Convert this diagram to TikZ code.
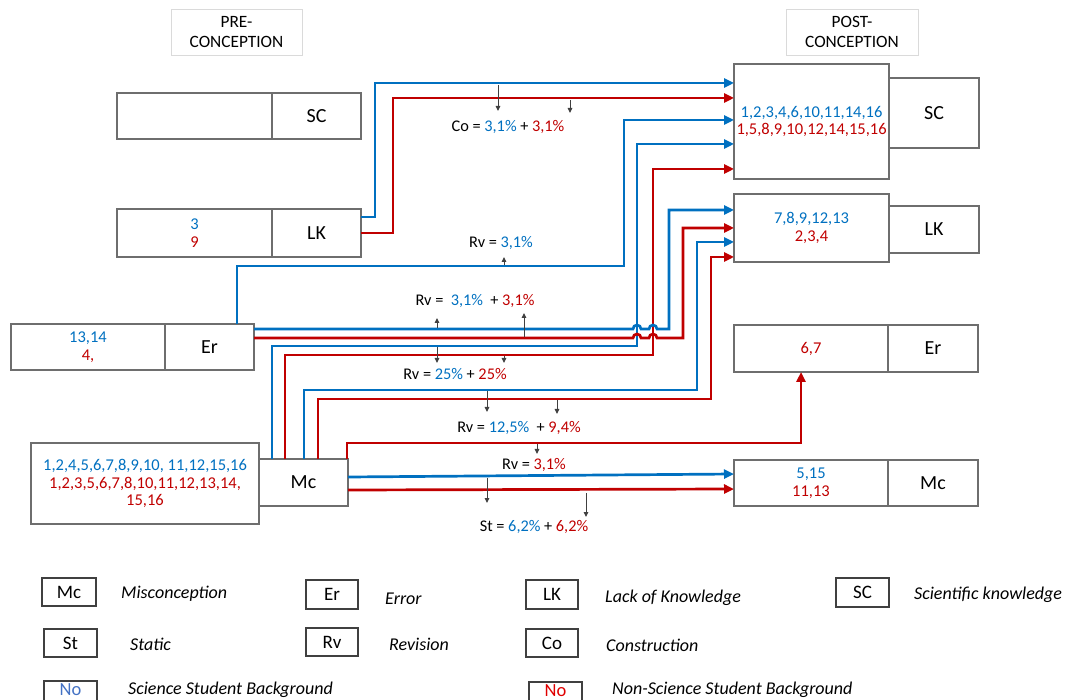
\documentclass[tikz,border=0pt]{standalone}
\usepackage{fontspec}
\setmainfont{Carlito}
\usetikzlibrary{arrows.meta}
\definecolor{cblue}{HTML}{0070C0}
\definecolor{cred}{HTML}{C00000}
\definecolor{bgray}{HTML}{6E6E6E}
\definecolor{hgray}{HTML}{DADADA}
\definecolor{agray}{HTML}{404040}
\definecolor{nblue}{HTML}{4472C4}
\definecolor{nred}{HTML}{E00000}
\begin{document}
\begin{tikzpicture}[x=1pt,y=-1pt,
 box/.style={draw=bgray,line width=1.1pt,inner sep=0pt,outer sep=0pt,align=center,anchor=north west,font=\fontsize{16.5}{17.5}\selectfont},
 abbr/.style={box,font=\fontsize{20}{23}\selectfont},
 head/.style={box,draw=hgray,line width=0.9pt,font=\fontsize{17.3}{19.5}\selectfont},
 lbox/.style={box,draw=agray,line width=1.2pt,font=\fontsize{19}{22}\selectfont},
 lframe/.style={draw=agray,line width=1.2pt},
 ltext/.style={anchor=west,inner sep=0pt,font=\fontsize{18}{20}\selectfont\itshape},
 lab/.style={inner sep=0pt,font=\fontsize{16.3}{19}\selectfont},
 bl/.style={draw=cblue,line width=2.7pt,-{Triangle[length=10pt,width=9pt]}},
 rd/.style={draw=cred,line width=2.7pt,-{Triangle[length=10pt,width=9pt]}},
 gar/.style={draw=agray,line width=1pt,-{Triangle[length=5pt,width=4.5pt]}}
]
\useasboundingbox (0,0) rectangle (1066,700);
\clip (0,0) rectangle (1066,700);

% headers
\node[head,minimum width=131pt,minimum height=46pt] (preHead) at (171,9) {PRE-\\CONCEPTION};
\node[head,minimum width=132pt,minimum height=46pt] (postHead) at (786,9) {POST-\\CONCEPTION};

% pre boxes
\node[box,minimum width=155pt,minimum height=46pt] (preSCa) at (117,93) {};
\node[abbr,minimum width=89pt,minimum height=46pt] (preSCb) at (272,93) {SC};
\node[box,minimum width=155pt,minimum height=48pt] (preLKa) at (117,209) {\textcolor{cblue}{3}\\\textcolor{cred}{9}};
\node[abbr,minimum width=89pt,minimum height=48pt] (preLKb) at (272,209) {LK};
\node[box,minimum width=154pt,minimum height=46pt] (preEra) at (11,324) {\textcolor{cblue}{13,14}\\\textcolor{cred}{4,}};
\node[abbr,minimum width=89pt,minimum height=46pt] (preErb) at (165,324) {Er};
\node[box,minimum width=228pt,minimum height=81pt] (preMca) at (31,443) {\textcolor{cblue}{1,2,4,5,6,7,8,9,10, 11,12,15,16}\\\textcolor{cred}{1,2,3,5,6,7,8,10,11,12,13,14,}\\\textcolor{cred}{15,16}};
\node[abbr,minimum width=89pt,minimum height=47pt] (preMcb) at (259,459) {Mc};

% post boxes
\node[box,minimum width=155pt,minimum height=115pt] (postSCa) at (734,64) {\textcolor{cblue}{1,2,3,4,6,10,11,14,16}\\\textcolor{cred}{1,5,8,9,10,12,14,15,16}};
\node[abbr,minimum width=90pt,minimum height=70pt] (postSCb) at (889,78) {SC};
\node[box,minimum width=155pt,minimum height=68pt] (postLKa) at (734,194) {\textcolor{cblue}{7,8,9,12,13}\\\textcolor{cred}{2,3,4}};
\node[abbr,minimum width=90pt,minimum height=47pt] (postLKb) at (889,206) {LK};
\node[box,minimum width=154pt,minimum height=47pt] (postEra) at (734,325) {\textcolor{cred}{6,7}};
\node[abbr,minimum width=90pt,minimum height=47pt] (postErb) at (888,325) {Er};
\node[box,minimum width=154pt,minimum height=46pt] (postMca) at (734,460) {\textcolor{cblue}{5,15}\\\textcolor{cred}{11,13}};
\node[abbr,minimum width=90pt,minimum height=46pt] (postMcb) at (888,460) {Mc};

% connectors LK -> SC
\draw[bl] (preLKb.east |- 0,217) -| (375,83) -- (postSCa.west |- 0,83);
\draw[rd] (preLKb.east |- 0,233) -| (393,98) -- (postSCa.west |- 0,98);
% Er -> SC
\draw[bl] (preErb.north -| 237,0) |- (624,266) |- (postSCa.west |- 0,120);
% Mc -> SC
\draw[bl] (preMcb.north -| 272,0) |- (637,346) |- (postSCa.west |- 0,144);
\draw[rd] (preMcb.north -| 285,0) |- (653,355) |- (postSCa.west |- 0,169);
% Er -> LK (with hops)
\draw[bl] (preErb.east |- 0,329) -- (633,329) arc[start angle=180,end angle=0,radius=4pt] -- (649,329) arc[start angle=180,end angle=0,radius=4pt] -- (669,329) |- (postLKa.west |- 0,210);
\draw[rd] (preErb.east |- 0,338) -- (633,338) arc[start angle=180,end angle=0,radius=4pt] -- (649,338) arc[start angle=180,end angle=0,radius=4pt] -- (683,338) |- (postLKa.west |- 0,228);
% Mc -> LK
\draw[bl] (preMcb.north -| 304,0) |- (697,390) |- (postLKa.west |- 0,242);
\draw[rd] (preMcb.north -| 318,0) |- (711,399) |- (postLKa.west |- 0,257);
% Mc -> Er
\draw[rd] (preMcb.north -| 347,0) |- (801,443) -- (postEra.south -| 801,0);
% Mc -> Mc
\draw[bl] (preMcb.east |- 0,477) -- (postMca.west |- 0,474);
\draw[rd] (preMcb.east |- 0,490) -- (postMca.west |- 0,489);

% gray small arrows
\draw[gar] (498,85) -- (498,111);
\draw[gar] (570,100) -- (570,113);
\draw[gar] (504,265) -- (504,257);
\draw[gar] (437,328) -- (437,318);
\draw[gar] (524,337) -- (524,313);
\draw[gar] (437,347) -- (437,363);
\draw[gar] (504,356) -- (504,363);
\draw[gar] (487,391) -- (487,412);
\draw[gar] (557,400) -- (557,414);
\draw[gar] (537,444) -- (537,454);
\draw[gar] (487,478) -- (487,503);
\draw[gar] (586,493) -- (586,517);

% labels
\node[lab] (co) at (508,127) {Co = \textcolor{cblue}{3,1\%} + \textcolor{cred}{3,1\%}};
\node[lab] (rv1) at (501,243) {Rv = \textcolor{cblue}{3,1\%}};
\node[lab] (rv2) at (475,301) {Rv = \ \textcolor{cblue}{3,1\%} \ + \textcolor{cred}{3,1\%}};
\node[lab] (rv3) at (455,374) {Rv = \textcolor{cblue}{25\%} + \textcolor{cred}{25\%}};
\node[lab] (rv4) at (519,428) {Rv = \textcolor{cblue}{12,5\%} \ + \textcolor{cred}{9,4\%}};
\node[lab] (rv5) at (534,465) {Rv = \textcolor{cred}{3,1\%}};
\node[lab] (st) at (534,527) {St = \textcolor{cblue}{6,2\%} + \textcolor{cred}{6,2\%}};

% legend
\node[lbox,minimum width=54pt,minimum height=28pt] (lgMc) at (42,578) {Mc};
\node[ltext] (ltMc) at (121,594) {Misconception};
\node[lbox,minimum width=52pt,minimum height=29pt] (lgEr) at (306,580) {Er};
\node[ltext] (ltEr) at (385,599) {Error};
\node[lbox,minimum width=52pt,minimum height=29pt] (lgLK) at (526,580) {LK};
\node[ltext] (ltLK) at (605,598) {Lack of Knowledge};
\node[lbox,minimum width=53pt,minimum height=29pt] (lgSC) at (836,578) {SC};
\node[ltext] (ltSC) at (914,595) {Scientific knowledge};
\node[lbox,minimum width=53pt,minimum height=28pt] (lgSt) at (44,629) {St};
\node[ltext] (ltSt) at (130,644) {Static};
\node[lbox,minimum width=52pt,minimum height=28pt] (lgRv) at (306,628) {Rv};
\node[ltext] (ltRv) at (389,644) {Revision};
\node[lbox,minimum width=52pt,minimum height=28pt] (lgCo) at (526,629) {Co};
\node[ltext] (ltCo) at (606,645) {Construction};
\draw[lframe] (44,710) |- (97,681) -- (97,710);
\node[inner sep=0pt,font=\fontsize{18.5}{20}\selectfont,text=nblue] (lgNo1) at (70.5,690) {No};
\node[ltext] (ltNo1) at (128,690) {Science Student Background};
\draw[lframe] (529,710) |- (582,682) -- (582,710);
\node[inner sep=0pt,font=\fontsize{18.5}{20}\selectfont,text=nred] (lgNo2) at (555.5,691) {No};
\node[ltext] (ltNo2) at (612,690) {Non-Science Student Background};
\end{tikzpicture}
\end{document}
